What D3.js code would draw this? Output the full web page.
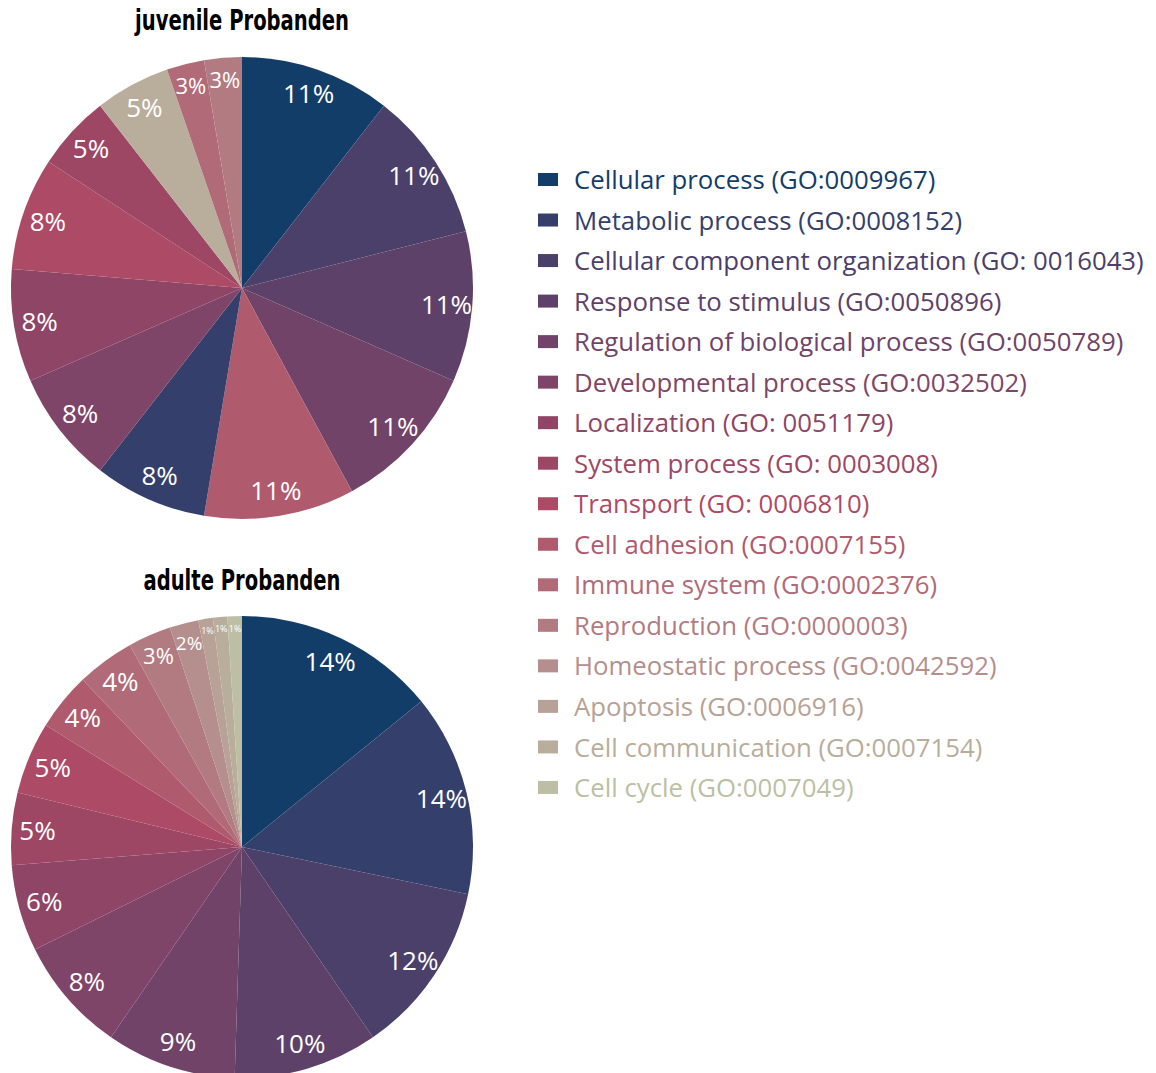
<!DOCTYPE html>
<html>
<head>
<meta charset="utf-8">
<script src="https://cdn.jsdelivr.net/npm/d3@7"></script>
<style>
  body { margin: 0; background: #ffffff; }
  svg { display: block; }
</style>
</head>
<body>
<svg id="chart" width="1156" height="1073"></svg>
<script>
// GO biological-process terms, in legend order
const terms = [
  "Cellular process", "Metabolic process", "Cellular component organization",
  "Response to stimulus", "Regulation of biological process", "Developmental process",
  "Localization", "System process", "Transport", "Cell adhesion", "Immune system",
  "Reproduction", "Homeostatic process", "Apoptosis", "Cell communication", "Cell cycle"
];
const goIds = [
  "GO:0009967", "GO:0008152", "GO: 0016043", "GO:0050896", "GO:0050789", "GO:0032502",
  "GO: 0051179", "GO: 0003008", "GO: 0006810", "GO:0007155", "GO:0002376", "GO:0000003",
  "GO:0042592", "GO:0006916", "GO:0007154", "GO:0007049"
];
const termColors = [
  "#133d69", "#34406b", "#4b406a", "#5e4169", "#714369", "#7f4568",
  "#8e4566", "#9e4765", "#ad4a66", "#b05a6e", "#b06a78", "#b27b81",
  "#b58f8d", "#b8a196", "#b9ad9c", "#bcbfa3"
];

// juvenile subjects: gene counts per term
const juvenileTerms = [
  "Cellular process", "Cellular component organization", "Response to stimulus",
  "Regulation of biological process", "Cell adhesion", "Metabolic process",
  "Developmental process", "Localization", "Transport", "System process",
  "Cell communication", "Immune system", "Reproduction"
];
const juvenileValues = [4, 4, 4, 4, 4, 3, 3, 3, 3, 2, 2, 1, 1];

// adult subjects: share per term (%)
const adultTerms = [
  "Cellular process", "Metabolic process", "Cellular component organization",
  "Response to stimulus", "Regulation of biological process", "Developmental process",
  "Localization", "System process", "Transport", "Cell adhesion", "Immune system",
  "Reproduction", "Homeostatic process", "Apoptosis", "Cell communication", "Cell cycle"
];
const adultValues = [14, 14, 12, 10, 9, 8, 6, 5, 5, 4, 4, 3, 2, 1, 1, 1];

const svg = d3.select("#chart");
const color = d3.scaleOrdinal().domain(terms).range(termColors);
// smaller slices get smaller percentage labels
const labelSize = d3.scaleLinear().domain([1, 2, 3, 4]).range([9, 19, 22, 26]).clamp(true);

const radius = 231;
const arc = d3.arc().innerRadius(0).outerRadius(radius);
const pie = d3.pie().sort(null).value(d => d.value);

function drawPie(title, names, values, cx, cy, titleY) {
  const rows = names.map((n, i) => ({ term: n, value: values[i] }));
  const total = d3.sum(values);
  const g = svg.append("g").attr("transform", `translate(${cx},${cy})`);
  const arcs = pie(rows);

  g.selectAll("path.slice")
    .data(arcs)
    .join("path")
    .attr("class", "slice")
    .attr("d", arc)
    .attr("fill", d => color(d.data.term));

  g.selectAll("text.pct")
    .data(arcs)
    .join("text")
    .attr("class", "pct")
    .each(function (d) {
      const pct = Math.round(d.data.value / total * 100);
      const fs = labelSize(pct);
      const r = radius - 5 - fs * 0.8;
      const a = (d.startAngle + d.endAngle) / 2;
      d3.select(this)
        .attr("x", Math.sin(a) * r)
        .attr("y", -Math.cos(a) * r)
        .attr("dy", "0.36em")
        .attr("font-size", fs)
        .text(pct + "%");
    })
    .attr("text-anchor", "middle")
    .attr("font-family", "'Open Sans', 'Noto Sans', sans-serif")
    .attr("fill", "#ffffff");

  const t = svg.append("text")
    .attr("class", "title")
    .attr("text-anchor", "middle")
    .attr("font-family", "'Liberation Sans Narrow', 'DejaVu Sans Condensed', Roboto, sans-serif")
    .attr("font-weight", "bold")
    .attr("font-size", 29)
    .attr("fill", "#000")
    .text(title);
  return { node: t, cx, y: titleY };
}

const titles = [
  drawPie("juvenile Probanden", juvenileTerms, juvenileValues, 242, 288, 30),
  drawPie("adulte Probanden", adultTerms, adultValues, 242, 847, 590)
];

// condense the bold titles to a narrow face width
const titleW = titles[0].node.node().getComputedTextLength();
const titleScale = Math.min(1, 214 / titleW);
titles.forEach(t => t.node.attr("transform", `translate(${t.cx},${t.y}) scale(${titleScale},1)`));

// legend
const legendX = 538, legendY0 = 180, legendStep = 40.53;
const legend = svg.append("g").attr("class", "legend");
const items = legend.selectAll("g.item")
  .data(terms)
  .join("g")
  .attr("class", "item");

items.append("rect")
  .attr("x", legendX)
  .attr("y", (d, i) => legendY0 + i * legendStep - 7)
  .attr("width", 20)
  .attr("height", 13)
  .attr("fill", d => color(d));

const labels = items.append("text")
  .attr("font-family", "'Open Sans', 'Noto Sans', sans-serif")
  .attr("font-size", 26)
  .attr("dy", "0.35em")
  .attr("fill", d => color(d))
  .text((d, i) => `${d} (${goIds[i]})`);

let widest = 0;
labels.each(function () { widest = Math.max(widest, this.getComputedTextLength()); });
const legendScale = Math.min(1, 570 / widest);
labels.attr("transform", (d, i) => `translate(574,${legendY0 + i * legendStep}) scale(${legendScale},1)`);
</script>
</body>
</html>
